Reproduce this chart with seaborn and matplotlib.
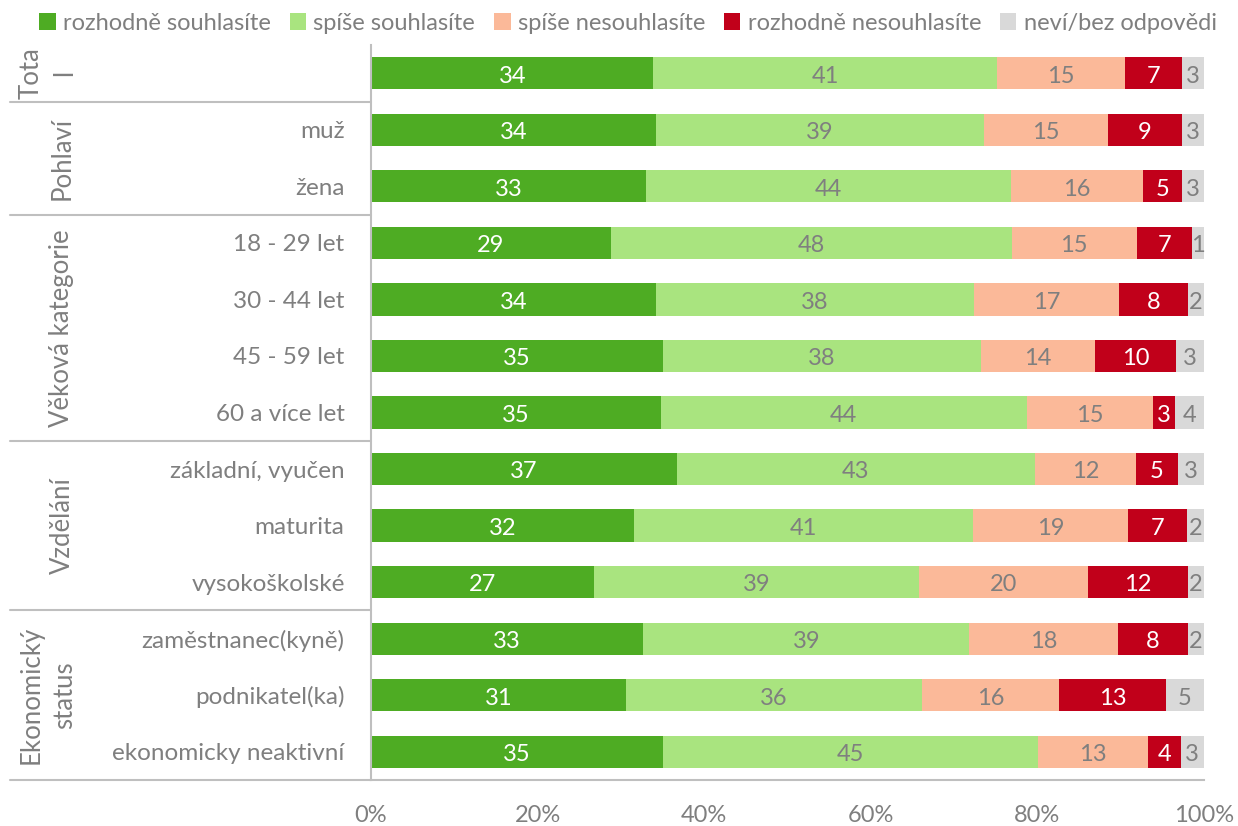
import matplotlib
matplotlib.use("Agg")
import matplotlib.pyplot as plt
import matplotlib.transforms as mtransforms
from matplotlib.lines import Line2D
from matplotlib.patches import Patch
import numpy as np
import pandas as pd
import seaborn as sns

# ---- data ----
row_keys = ["Total", "muž", "žena", "18 - 29 let", "30 - 44 let", "45 - 59 let",
            "60 a více let", "základní, vyučen", "maturita", "vysokoškolské",
            "zaměstnanec(kyně)", "podnikatel(ka)", "ekonomicky neaktivní"]
row_labels = ["", "muž", "žena", "18 - 29 let", "30 - 44 let", "45 - 59 let",
              "60 a více let", "základní, vyučen", "maturita", "vysokoškolské",
              "zaměstnanec(kyně)", "podnikatel(ka)", "ekonomicky neaktivní"]
series = ["rozhodně souhlasíte", "spíše souhlasíte", "spíše nesouhlasíte",
          "rozhodně nesouhlasíte", "neví/bez odpovědi"]
rozhodne_souhlasite = [33.9, 34.2, 33.0, 28.8, 34.2, 35.1, 34.8, 36.7, 31.6, 26.8, 32.7, 30.6, 35.1]
spise_souhlasite    = [41.2, 39.4, 43.8, 48.1, 38.2, 38.1, 43.9, 43.0, 40.7, 39.0, 39.1, 35.6, 45.0]
spise_nesouhlasite  = [15.4, 14.9, 15.9, 15.0, 17.4, 13.7, 15.2, 12.1, 18.6, 20.3, 17.9, 16.4, 13.2]
rozhodne_nesouhl    = [6.9, 8.8, 4.7, 6.7, 8.3, 9.7, 2.6, 5.1, 7.0, 12.0, 8.4, 12.8, 3.9]
nevi                = [2.6, 2.7, 2.6, 1.4, 1.9, 3.4, 3.5, 3.1, 2.1, 1.9, 1.9, 4.6, 2.8]
groups = ["Tota\nl", "Pohlaví", "Věková kategorie", "Vzdělání", "Ekonomický\nstatus"]
group_sizes = [1, 2, 4, 3, 3]
xticks = [0, 20, 40, 60, 80, 100]
xtick_labels = ["0%", "20%", "40%", "60%", "80%", "100%"]

colors = ["#4EAC23", "#A9E47F", "#FBB999", "#C1001A", "#D9D9D9"]
text_colors = ["white", "#7F7F7F", "#7F7F7F", "white", "#7F7F7F"]
GRAY = "#7F7F7F"
LINE = "#BFBFBF"

sns.set_theme(style="white")
plt.rcParams["font.family"] = ["Lato", "DejaVu Sans"]

vals = np.array([rozhodne_souhlasite, spise_souhlasite, spise_nesouhlasite,
                 rozhodne_nesouhl, nevi])
cums = np.cumsum(vals, axis=0)

fig = plt.figure(figsize=(12.38, 8.26), dpi=100)
ax = fig.add_axes([371 / 1238, 1 - 780 / 826, (1204 - 371) / 1238, (780 - 45) / 826])

# overlay cumulative bars from the last series to the first
for i in range(len(series) - 1, -1, -1):
    df = pd.DataFrame({"row": row_keys, "cum": cums[i]})
    sns.barplot(data=df, x="cum", y="row", order=row_keys, orient="h",
                color=colors[i], saturation=1, width=0.57, ax=ax,
                edgecolor="none", linewidth=0)

# value labels
for i in range(len(series)):
    for r in range(len(row_keys)):
        v = vals[i, r]
        ax.text(cums[i, r] - v / 2, r + 0.05, f"{v:.0f}", ha="center", va="center",
                fontsize=17, color=text_colors[i])

ax.set_xlim(0, 100)
ax.set_ylim(len(row_keys) - 0.5, -0.5)
ax.set_xlabel("")
ax.set_ylabel("")
ax.set_xticks(xticks)
ax.set_xticklabels(xtick_labels, fontsize=17, color=GRAY)
ax.set_yticks(range(len(row_keys)))
ax.set_yticklabels(row_labels, fontsize=17.5, color=GRAY)
ax.tick_params(axis="y", length=0, pad=19)
ax.tick_params(axis="x", length=7, width=1.3, color=LINE, direction="out", pad=11)
for s in ["top", "right"]:
    ax.spines[s].set_visible(False)
for s in ["left", "bottom"]:
    ax.spines[s].set_color(LINE)
    ax.spines[s].set_linewidth(1.5)

# group separators and group labels
trans = mtransforms.blended_transform_factory(ax.transAxes, ax.transData)
x_left = (10 - 371) / 833
start = 0
for g, n in zip(groups, group_sizes):
    end = start + n
    yb = end - 0.5
    ax.add_line(Line2D([x_left, 0], [yb, yb], transform=trans, color=LINE,
                       lw=1.5, clip_on=False))
    yc = (start + end - 1) / 2
    xc = (48 - 371) / 833 if "\n" in g else (62 - 371) / 833
    ax.text(xc, yc, g, transform=trans, rotation=90, ha="center", va="center",
            fontsize=18.5, color=GRAY, linespacing=1.4, multialignment="center")
    start = end

# legend
handles = [Patch(facecolor=c, edgecolor="none") for c in colors]
fig.legend(handles, series, loc="center", bbox_to_anchor=(628 / 1238, 1 - 23 / 826),
           ncol=5, frameon=False, fontsize=17, labelcolor=GRAY,
           handlelength=0.7, handleheight=0.7, handletextpad=0.3,
           columnspacing=0.8, borderaxespad=0)

fig.savefig("out.png", dpi=100)
